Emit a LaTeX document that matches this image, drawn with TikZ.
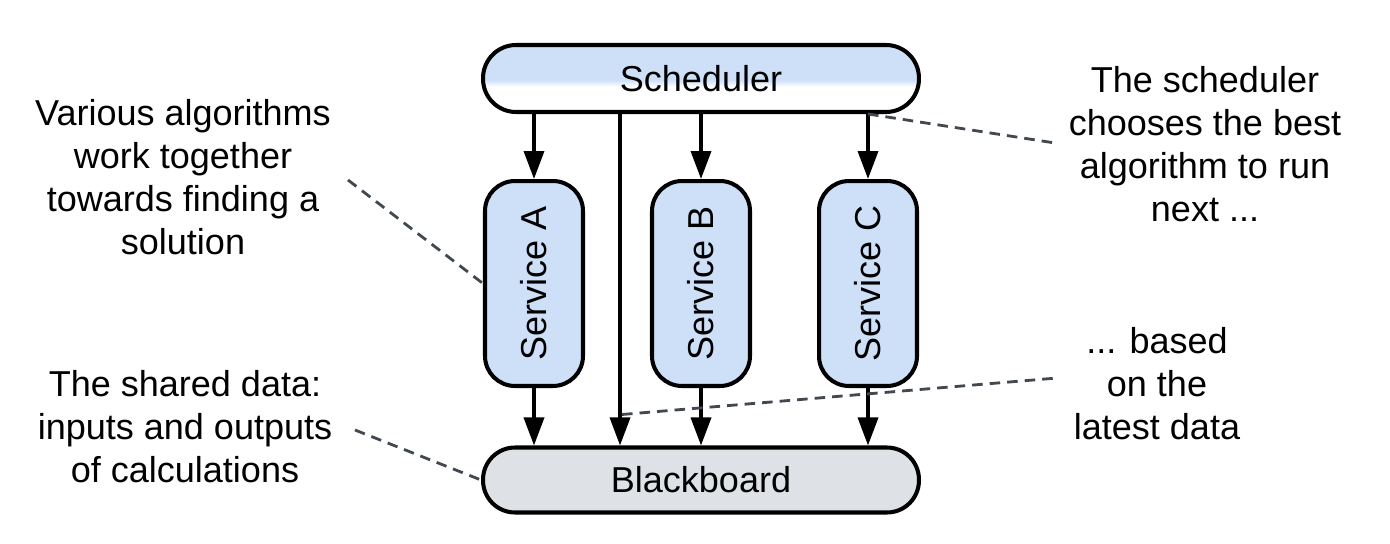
\documentclass[tikz,border=0pt]{standalone}
\usepackage{fontspec}
\setmainfont{Liberation Sans}
\usepackage{xcolor}
\usepackage{tikz}
\usetikzlibrary{arrows.meta,positioning,calc}

\definecolor{svcblue}{RGB}{205,224,248}
\definecolor{boardgray}{RGB}{222,225,230}
\definecolor{notegray}{RGB}{66,72,80}
% top part blue, lower part white
\pgfdeclareverticalshading{schedfade}{100bp}{color(0bp)=(white); color(44bp)=(white); color(49bp)=(svcblue); color(100bp)=(svcblue)}

\begin{document}
\begin{tikzpicture}[x=0.02cm,y=-0.02cm,
    font=\fontsize{20.5}{24.5}\selectfont,
    box/.style={draw,line width=2.3pt,align=center,inner sep=0pt},
    svc/.style={box,fill=svcblue,rounded corners=0.6cm,minimum width=1.96cm,minimum height=4.1cm},
    arr/.style={line width=2pt,-{Triangle[length=0.56cm,width=0.4cm]}},
    note/.style={align=center},
    hint/.style={dashed,notegray,line width=1.6pt,dash pattern=on 6pt off 4pt}]
    \useasboundingbox (0,0) rectangle (1390,544);
    \node[box,shading=schedfade,rounded corners=0.66cm,minimum width=8.72cm,minimum height=1.34cm] (sched) at (701,78.5) {Scheduler};
    \node[svc,below=1.3cm of sched] (sB) {\rotatebox{90}{Service B}};
    \node[svc,left=1.3cm of sB] (sA) {\rotatebox{90}{Service A}};
    \node[svc,right=1.3cm of sB] (sC) {\rotatebox{90}{Service C}};
    \node[box,fill=boardgray,rounded corners=0.64cm,minimum width=8.72cm,minimum height=1.3cm,below=1.15cm of sB] (bb) {Blackboard};
    \coordinate (direct) at ($(sched.south)+(-1.62cm,0)$);
    \foreach \s in {sA,sB,sC} {
      \draw[arr] (sched.south -| \s) -- (\s.north);
      \draw[arr] (\s.south) -- (bb.north -| \s);
    }
    \draw[arr] (direct) -- (direct |- bb.north);
    \coordinate (onarr) at ($(direct |- bb.north)+(0.04cm,0.62cm)$);
    % notes
    \node[note] (algos) at (183,177) {Various algorithms\\work together\\towards finding a\\solution};
    \node[note] (shared) at (185,427) {The shared data:\\inputs and outputs\\of calculations};
    \node[note] (choose) at (1205,144) {The scheduler\\chooses the best\\algorithm to run\\next ...};
    \node[note] (latest) at (1157,384) {... based\\on the\\latest data};
    \coordinate (algosend) at (348,180);
    \coordinate (sharedend) at (355,430);
    \coordinate (chooseend) at (1055,143);
    \coordinate (latestend) at (1057,378);
    \draw[hint] (algosend) -- (sA.west);
    \draw[hint] (sharedend) -- (bb.west);
    \draw[hint] (sched.south -| sC) -- (chooseend);
    \draw[hint] (onarr) -- (latestend);
\end{tikzpicture}
\end{document}
